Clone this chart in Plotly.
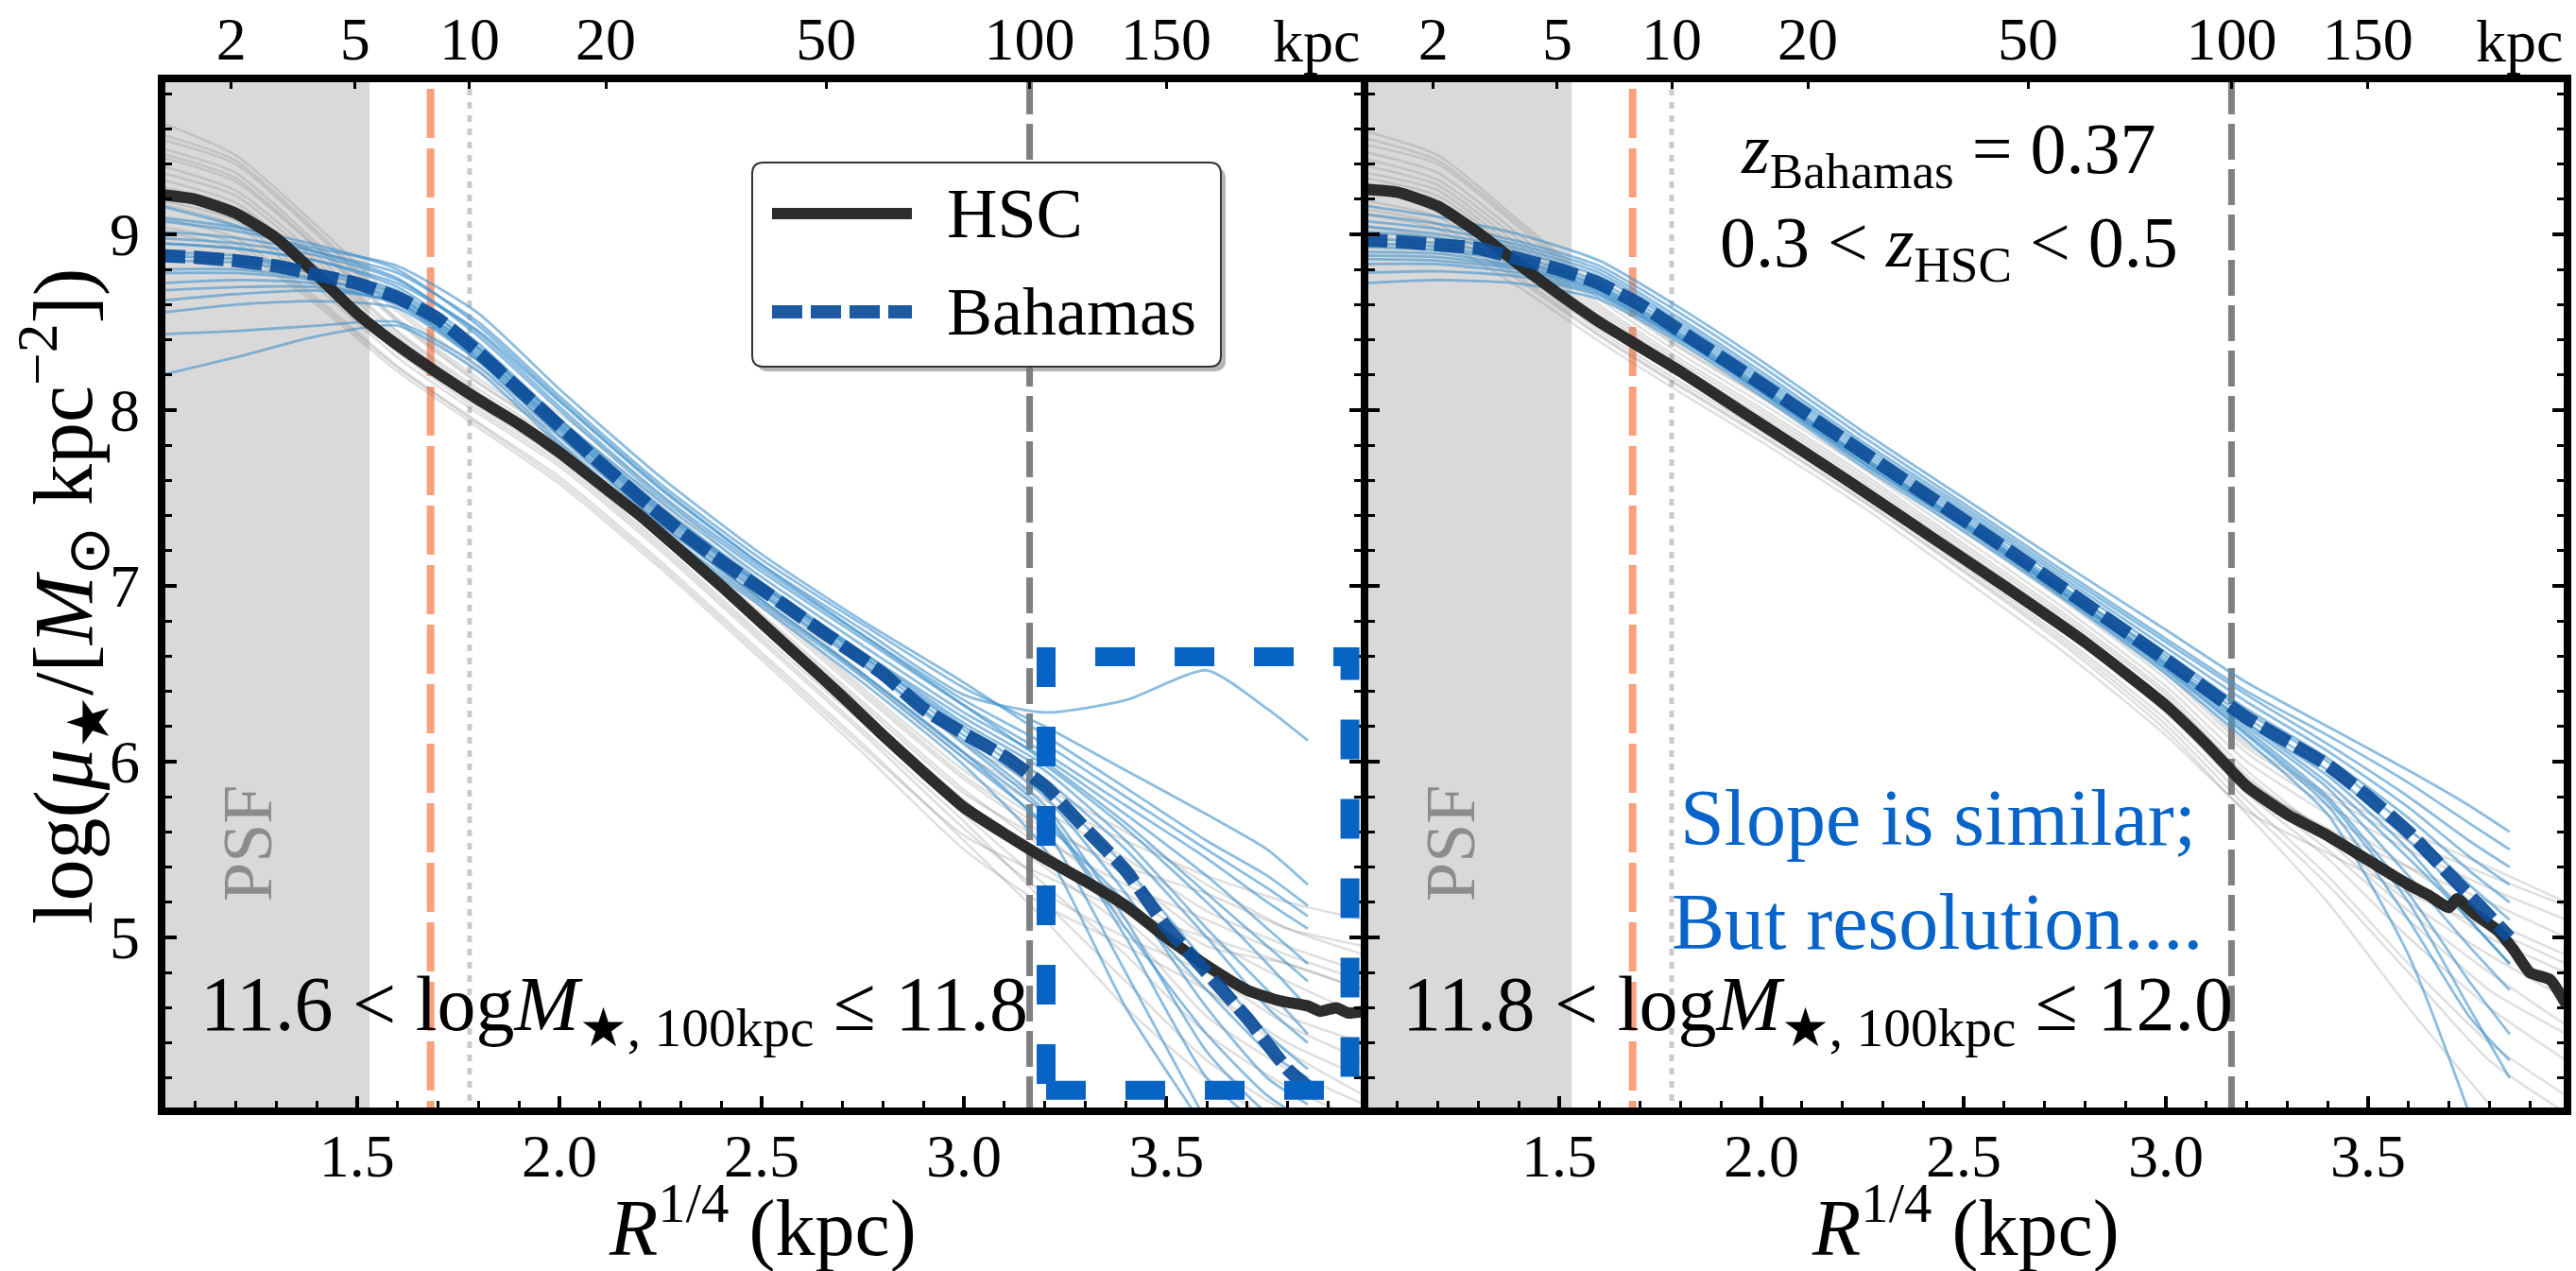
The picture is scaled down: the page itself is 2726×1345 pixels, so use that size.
import plotly.graph_objects as go

W, H = 2726, 1345
FONT = "Liberation Serif"

# ---------------- data (x = R^{1/4} in kpc^{1/4}, y = log surface mass density) -------------
XB = [1.0, 1.2, 1.4, 1.6, 1.8, 2.0, 2.25, 2.5, 2.75, 3.0, 3.2, 3.4, 3.6, 3.75, 3.85]
XG = [1.0, 1.2, 1.4, 1.6, 1.8, 2.0, 2.25, 2.5, 2.75, 3.0, 3.2, 3.4, 3.6, 3.8, 3.99]

# median profiles, left panel (11.6 < logM <= 11.8)
HSC_L_X = [1.0, 1.1, 1.2, 1.3, 1.4, 1.5, 1.6, 1.7, 1.8, 1.9, 2.0, 2.1, 2.2, 2.3, 2.4, 2.5, 2.6, 2.7,
           2.8, 2.9, 3.0, 3.1, 3.2, 3.3, 3.4, 3.5, 3.6, 3.7, 3.78, 3.85, 3.88, 3.92, 3.95, 3.99]
HSC_L_Y = [9.23, 9.20, 9.12, 8.98, 8.77, 8.55, 8.37, 8.21, 8.06, 7.92, 7.76, 7.58, 7.40, 7.20, 7.00,
           6.79, 6.58, 6.37, 6.15, 5.94, 5.74, 5.59, 5.45, 5.32, 5.18, 5.00, 4.84, 4.70, 4.64, 4.61,
           4.58, 4.60, 4.57, 4.58]
BAH_L_X = [1.0, 1.1, 1.2, 1.3, 1.4, 1.5, 1.6, 1.7, 1.8, 1.9, 2.0, 2.1, 2.2, 2.3, 2.4, 2.5, 2.6, 2.7,
           2.8, 2.9, 3.0, 3.1, 3.2, 3.3, 3.4, 3.5, 3.6, 3.7, 3.8, 3.85]
BAH_L_Y = [8.88, 8.87, 8.85, 8.82, 8.77, 8.72, 8.64, 8.52, 8.33, 8.12, 7.91, 7.70, 7.50, 7.31, 7.14,
           6.98, 6.82, 6.66, 6.50, 6.30, 6.16, 6.03, 5.86, 5.62, 5.38, 5.06, 4.80, 4.54, 4.25, 4.15]

# median profiles, right panel (11.8 < logM <= 12.0)
HSC_R_X = [1.0, 1.1, 1.2, 1.3, 1.4, 1.5, 1.6, 1.7, 1.8, 1.9, 2.0, 2.2, 2.4, 2.6, 2.8, 3.0, 3.1, 3.2,
           3.3, 3.4, 3.5, 3.6, 3.65, 3.7, 3.72, 3.76, 3.82, 3.86, 3.9, 3.95, 3.99]
HSC_R_Y = [9.26, 9.24, 9.16, 9.01, 8.83, 8.66, 8.50, 8.36, 8.22, 8.07, 7.92, 7.62, 7.31, 7.00, 6.68,
           6.32, 6.10, 5.86, 5.70, 5.58, 5.44, 5.30, 5.24, 5.17, 5.22, 5.14, 5.04, 4.93, 4.80, 4.76, 4.62]
BAH_R_X = [1.0, 1.1, 1.2, 1.3, 1.4, 1.5, 1.6, 1.7, 1.8, 1.9, 2.0, 2.2, 2.4, 2.6, 2.8, 3.0, 3.2, 3.4,
           3.5, 3.6, 3.7, 3.78, 3.85]
BAH_R_Y = [8.97, 8.96, 8.94, 8.92, 8.86, 8.80, 8.72, 8.60, 8.45, 8.30, 8.15, 7.84, 7.53, 7.22, 6.90,
           6.58, 6.25, 5.98, 5.80, 5.60, 5.36, 5.17, 5.00]

# individual Bahamas profiles (on XB), left panel
BLUE_L = [
    [9.17, 9.05, 8.90, 8.78, 8.50, 8.08, 7.58, 7.15, 6.78, 6.42, 6.20, 5.95, 5.70, 5.50, 5.30],
    [9.02, 8.98, 8.90, 8.75, 8.42, 8.00, 7.50, 7.08, 6.70, 6.32, 6.05, 5.75, 5.45, 5.20, 5.05],
    [8.95, 8.92, 8.85, 8.70, 8.38, 7.95, 7.45, 7.02, 6.62, 6.22, 5.95, 5.55, 5.05, 4.70, 4.45],
    [8.90, 8.88, 8.80, 8.68, 8.35, 7.92, 7.42, 6.98, 6.58, 6.15, 5.80, 5.25, 4.60, 4.20, 4.05],
    [8.85, 8.84, 8.78, 8.65, 8.30, 7.88, 7.38, 6.95, 6.55, 6.12, 5.75, 5.10, 4.35, 4.00, 3.90],
    [8.80, 8.80, 8.75, 8.62, 8.28, 7.85, 7.35, 6.92, 6.50, 6.05, 5.62, 4.80, 3.95, None, None],
    [8.72, 8.74, 8.72, 8.60, 8.30, 7.90, 7.42, 7.00, 6.62, 6.25, 5.98, 5.62, 5.20, 4.85, 4.60],
    [8.62, 8.66, 8.68, 8.62, 8.35, 7.95, 7.48, 7.05, 6.66, 6.28, 6.02, 5.70, 5.35, 5.05, 4.85],
    [8.55, 8.60, 8.62, 8.58, 8.28, 7.86, 7.36, 6.92, 6.50, 6.05, 5.70, 5.00, 4.20, 3.90, None],
    [8.43, 8.45, 8.48, 8.50, 8.25, 7.82, 7.32, 6.90, 6.48, 6.02, 5.65, 5.20, 4.70, 4.35, 4.20],
    [8.19, 8.30, 8.42, 8.48, 8.22, 7.80, 7.30, 6.88, 6.45, 5.98, 5.50, 4.60, 3.90, None, None],
    [8.95, 8.92, 8.85, 8.72, 8.45, 8.05, 7.55, 7.12, 6.75, 6.38, 6.28, 6.35, 6.52, 6.30, 6.12],
    [9.08, 9.02, 8.92, 8.82, 8.55, 8.12, 7.62, 7.18, 6.80, 6.45, 6.15, 5.85, 5.55, 5.35, 5.18],
    [8.78, 8.78, 8.74, 8.64, 8.33, 7.90, 7.40, 6.96, 6.56, 6.10, 5.72, 5.05, 4.45, 4.10, 3.95],
    [8.98, 8.95, 8.88, 8.74, 8.44, 8.02, 7.52, 7.10, 6.72, 6.35, 6.10, 5.80, 5.50, 5.28, 5.12],
    [8.68, 8.70, 8.70, 8.61, 8.32, 7.92, 7.44, 7.01, 6.60, 6.18, 5.85, 5.40, 4.85, 4.45, 4.25],
    [8.88, 8.86, 8.80, 8.66, 8.36, 7.94, 7.44, 7.00, 6.60, 6.20, 5.90, 5.50, 5.00, 4.60, 4.40],
    [9.10, 9.04, 8.94, 8.80, 8.48, 8.06, 7.56, 7.12, 6.72, 6.32, 6.00, 5.65, 5.25, 4.95, 4.75],
]
# individual HSC profiles (on XG), left panel
GRAY_L = [
    [9.65, 9.45, 9.05, 8.62, 8.28, 7.98, 7.52, 7.02, 6.55, 6.10, 5.85, 5.60, 5.30, 5.05, 4.90],
    [9.50, 9.35, 8.95, 8.52, 8.18, 7.88, 7.42, 6.92, 6.42, 5.95, 5.65, 5.35, 5.00, 4.75, 4.55],
    [9.40, 9.25, 8.88, 8.45, 8.12, 7.82, 7.35, 6.84, 6.34, 5.84, 5.50, 5.10, 4.70, 4.35, 4.10],
    [9.32, 9.18, 8.82, 8.42, 8.08, 7.78, 7.30, 6.78, 6.28, 5.78, 5.42, 5.25, 4.95, 4.85, 4.70],
    [9.25, 9.12, 8.75, 8.35, 8.02, 7.72, 7.24, 6.72, 6.22, 5.70, 5.30, 4.90, 4.45, 4.15, 3.95],
    [9.18, 9.05, 8.70, 8.30, 7.98, 7.68, 7.20, 6.68, 6.16, 5.62, 5.25, 5.00, 4.80, 4.50, 4.30],
    [9.10, 8.98, 8.64, 8.25, 7.93, 7.62, 7.14, 6.62, 6.10, 5.55, 5.10, 4.60, 4.20, 3.90, None],
    [9.02, 8.92, 8.60, 8.22, 7.90, 7.58, 7.10, 6.58, 6.05, 5.50, 5.18, 4.95, 4.70, 4.40, 4.20],
    [9.55, 9.40, 9.00, 8.56, 8.22, 7.92, 7.46, 6.96, 6.48, 6.02, 5.72, 5.45, 5.15, 4.95, 4.80],
    [9.45, 9.30, 8.92, 8.50, 8.15, 7.85, 7.38, 6.88, 6.38, 5.90, 5.58, 5.20, 4.85, 4.55, 4.40],
    [9.28, 9.15, 8.78, 8.38, 8.05, 7.75, 7.27, 6.75, 6.24, 5.74, 5.40, 5.05, 4.55, 4.25, 4.05],
    [9.36, 9.22, 8.85, 8.44, 8.10, 7.80, 7.33, 6.82, 6.32, 5.82, 5.55, 5.30, 5.10, 4.90, 4.75],
    [9.58, 9.42, 9.02, 8.58, 8.24, 7.94, 7.48, 6.98, 6.50, 6.05, 5.78, 5.55, 5.35, 5.20, 5.10],
    [9.20, 9.08, 8.72, 8.33, 8.00, 7.70, 7.22, 6.70, 6.18, 5.66, 5.20, 4.75, 4.30, 4.00, None],
    [9.05, 8.95, 8.62, 8.24, 7.92, 7.60, 7.12, 6.60, 6.08, 5.58, 5.35, 5.15, 5.00, 4.85, 4.70],
    [9.47, 9.32, 8.93, 8.51, 8.16, 7.86, 7.40, 6.90, 6.40, 5.92, 5.62, 5.40, 5.25, 5.05, 4.95],
]
# individual Bahamas profiles (on XB), right panel
BLUE_R = [
    [9.17, 9.10, 9.00, 8.85, 8.58, 8.28, 7.88, 7.50, 7.12, 6.75, 6.45, 6.20, 5.95, 5.75, 5.60],
    [9.08, 9.03, 8.94, 8.80, 8.52, 8.22, 7.82, 7.45, 7.06, 6.68, 6.38, 6.10, 5.80, 5.55, 5.40],
    [9.02, 8.98, 8.90, 8.76, 8.48, 8.18, 7.78, 7.41, 7.02, 6.62, 6.30, 6.02, 5.68, 5.38, 5.20],
    [8.98, 8.95, 8.87, 8.73, 8.46, 8.16, 7.76, 7.39, 6.99, 6.58, 6.25, 5.95, 5.55, 5.20, 4.95],
    [8.93, 8.91, 8.84, 8.70, 8.43, 8.13, 7.73, 7.36, 6.96, 6.55, 6.20, 5.85, 5.35, 4.95, 4.70],
    [8.88, 8.87, 8.81, 8.68, 8.41, 8.10, 7.70, 7.33, 6.93, 6.52, 6.15, 5.75, 5.10, 4.55, 4.30],
    [8.83, 8.83, 8.78, 8.66, 8.40, 8.10, 7.70, 7.34, 6.95, 6.56, 6.22, 5.88, 5.45, 5.10, 4.85],
    [8.78, 8.79, 8.76, 8.65, 8.40, 8.11, 7.72, 7.36, 6.98, 6.60, 6.28, 6.00, 5.62, 5.30, 5.10],
    [8.72, 8.74, 8.72, 8.63, 8.38, 8.08, 7.68, 7.31, 6.92, 6.50, 6.12, 5.70, 4.90, 4.00, None],
    [9.12, 9.06, 8.96, 8.82, 8.55, 8.25, 7.85, 7.47, 7.08, 6.70, 6.40, 6.15, 5.88, 5.65, 5.50],
    [8.95, 8.93, 8.85, 8.71, 8.44, 8.14, 7.74, 7.37, 6.97, 6.56, 6.22, 5.92, 5.50, 5.10, 4.85],
    [8.86, 8.85, 8.80, 8.67, 8.41, 8.12, 7.72, 7.35, 6.95, 6.54, 6.18, 5.80, 5.25, 4.75, 4.45],
    [9.05, 9.00, 8.92, 8.78, 8.50, 8.20, 7.80, 7.43, 7.04, 6.65, 6.34, 6.06, 5.74, 5.46, 5.30],
    [8.90, 8.89, 8.82, 8.69, 8.42, 8.12, 7.72, 7.35, 6.95, 6.53, 6.16, 5.78, 5.20, 4.60, 4.20],
]
# individual HSC profiles (on XG), right panel
GRAY_R = [
    [9.60, 9.45, 9.08, 8.70, 8.38, 8.10, 7.74, 7.35, 6.95, 6.52, 6.10, 5.82, 5.60, 5.40, 5.20],
    [9.48, 9.35, 9.00, 8.63, 8.32, 8.04, 7.67, 7.27, 6.87, 6.43, 6.00, 5.70, 5.40, 5.10, 4.90],
    [9.40, 9.28, 8.94, 8.58, 8.27, 7.99, 7.62, 7.22, 6.82, 6.38, 5.92, 5.55, 5.15, 4.80, 4.50],
    [9.33, 9.22, 8.89, 8.54, 8.23, 7.95, 7.58, 7.18, 6.78, 6.33, 5.88, 5.62, 5.40, 5.20, 5.00],
    [9.26, 9.16, 8.83, 8.49, 8.19, 7.91, 7.54, 7.14, 6.74, 6.28, 5.82, 5.45, 5.00, 4.60, 4.30],
    [9.20, 9.10, 8.79, 8.45, 8.16, 7.88, 7.51, 7.11, 6.70, 6.24, 5.78, 5.35, 4.85, 4.40, 4.10],
    [9.12, 9.03, 8.74, 8.42, 8.13, 7.85, 7.48, 7.08, 6.66, 6.18, 5.70, 5.20, 4.60, 4.05, None],
    [9.05, 8.97, 8.70, 8.39, 8.10, 7.82, 7.45, 7.04, 6.62, 6.15, 5.72, 5.48, 5.25, 5.05, 4.85],
    [9.52, 9.40, 9.04, 8.66, 8.35, 8.07, 7.70, 7.31, 6.91, 6.47, 6.05, 5.75, 5.50, 5.28, 5.10],
    [9.44, 9.31, 8.97, 8.60, 8.29, 8.01, 7.64, 7.24, 6.84, 6.40, 5.95, 5.58, 5.20, 4.90, 4.65],
    [9.30, 9.19, 8.86, 8.51, 8.21, 7.93, 7.56, 7.16, 6.76, 6.30, 5.85, 5.50, 5.10, 4.70, 4.45],
    [9.36, 9.25, 8.91, 8.56, 8.25, 7.97, 7.60, 7.20, 6.80, 6.35, 5.90, 5.60, 5.30, 5.00, 4.80],
    [9.56, 9.42, 9.06, 8.68, 8.36, 8.08, 7.72, 7.33, 6.93, 6.50, 6.08, 5.80, 5.55, 5.35, 5.18],
    [9.15, 9.06, 8.76, 8.43, 8.14, 7.86, 7.49, 7.09, 6.68, 6.21, 5.74, 5.30, 4.80, 4.30, 4.00],
]

# axis / reference values
X_RANGE_L = [1.017, 3.99]
X_RANGE_R = [1.019, 3.993]
Y_RANGE = [4.011, 9.887]
X_TICKS = [1.5, 2.0, 2.5, 3.0, 3.5]
X_TICKTEXT = ["1.5", "2.0", "2.5", "3.0", "3.5"]
Y_TICKS = [5, 6, 7, 8, 9]
KPC_TICKS = [2, 5, 10, 20, 50, 100, 150]
PSF_EDGE = 1.531            # R^{1/4} of the PSF region edge
R_ORANGE = 8.0              # kpc
R_DOTTED = 10.0             # kpc
R_100 = 100.0               # kpc
BOX_X = [3.203, 3.954]      # highlighted region
BOX_Y = [4.13, 6.597]

# ---------------- helpers ----------------
def px(x):
    return x / W

def py(y):
    return 1 - y / H

DOM_L = [px(171), px(1444)]
DOM_R = [px(1444), px(2717)]
DOM_Y = [py(1176), py(83)]

fig = go.Figure()

HSC_COL = "rgba(38,38,38,0.97)"
BAH_COL = "rgba(12,78,154,0.93)"
BAH_DASH = "32px,9px"

panels = [
    ("x", "y", GRAY_L, BLUE_L, HSC_L_X, HSC_L_Y, BAH_L_X, BAH_L_Y),
    ("x2", "y2", GRAY_R, BLUE_R, HSC_R_X, HSC_R_Y, BAH_R_X, BAH_R_Y),
]
for xa, ya, grays, blues, hx, hy, bx, by in panels:
    for g in grays:
        fig.add_trace(go.Scatter(x=XG, y=g, mode="lines", xaxis=xa, yaxis=ya,
                                 line=dict(color="rgba(120,120,120,0.24)", width=2.5,
                                           shape="spline", smoothing=0.6),
                                 hoverinfo="skip", showlegend=False))
    for b in blues:
        fig.add_trace(go.Scatter(x=XB, y=b, mode="lines", xaxis=xa, yaxis=ya,
                                 line=dict(color="rgba(70,148,205,0.62)", width=2.8,
                                           shape="spline", smoothing=0.6),
                                 hoverinfo="skip", showlegend=False))
    fig.add_trace(go.Scatter(x=hx, y=hy, mode="lines", xaxis=xa, yaxis=ya, name="HSC",
                             line=dict(color=HSC_COL, width=12, shape="spline", smoothing=0.5),
                             hoverinfo="skip", showlegend=False))
    fig.add_trace(go.Scatter(x=bx, y=by, mode="lines", xaxis=xa, yaxis=ya, name="Bahamas",
                             line=dict(color=BAH_COL, width=14, dash=BAH_DASH,
                                       shape="spline", smoothing=0.5),
                             hoverinfo="skip", showlegend=False))

KPC_POS = [r ** 0.25 for r in KPC_TICKS]
for xa in ["x3", "x4"]:
    fig.add_trace(go.Scatter(x=KPC_POS, y=[None] * len(KPC_POS), xaxis=xa,
                             yaxis="y" if xa == "x3" else "y2", mode="lines",
                             hoverinfo="skip", showlegend=False))

tickfont = dict(family=FONT, size=64, color="black")

def xaxis(domain, rng, anchor):
    return dict(domain=domain, range=rng, anchor=anchor, tickvals=X_TICKS, ticktext=X_TICKTEXT,
                ticks="inside", ticklen=16, tickwidth=4, tickcolor="black",
                minor=dict(dtick=0.1, tick0=0, ticks="inside", ticklen=11, tickwidth=3,
                           tickcolor="black", showgrid=False),
                showgrid=False, zeroline=False, showline=False, tickfont=tickfont,
                ticklabelstandoff=4, fixedrange=True)

def yaxis(anchor, labels):
    return dict(domain=DOM_Y, range=Y_RANGE, anchor=anchor, tickvals=Y_TICKS,
                ticks="inside", ticklen=16, tickwidth=4, tickcolor="black", mirror="ticks",
                minor=dict(dtick=0.2, tick0=0, ticks="inside", ticklen=11, tickwidth=3,
                           tickcolor="black", showgrid=False),
                showgrid=False, zeroline=False, showline=False, tickfont=tickfont,
                showticklabels=labels, ticklabelstandoff=22, fixedrange=True)

def topaxis(over, rng, anchor):
    return dict(overlaying=over, side="top", range=rng, anchor=anchor, tickvals=KPC_POS,
                ticktext=[str(r) for r in KPC_TICKS], ticks="inside", ticklen=11, tickwidth=2.5,
                tickcolor="black", showgrid=False, zeroline=False, showline=False,
                tickfont=tickfont, ticklabelstandoff=6, fixedrange=True)

shapes = []
for xa, ya, rng in [("x", "y", X_RANGE_L), ("x2", "y2", X_RANGE_R)]:
    yd = ya + " domain"
    shapes.append(dict(type="rect", xref=xa, yref=yd, x0=rng[0] - 0.05, x1=PSF_EDGE, y0=0, y1=1,
                       fillcolor="#d9d9d9", line=dict(width=0), layer="below"))
    shapes.append(dict(type="line", xref=xa, yref=yd, x0=R_ORANGE ** 0.25, x1=R_ORANGE ** 0.25,
                       y0=0.99, y1=0, line=dict(color="#fba07c", width=8, dash="52px,11px"),
                       layer="below"))
    shapes.append(dict(type="line", xref=xa, yref=yd, x0=R_DOTTED ** 0.25, x1=R_DOTTED ** 0.25,
                       y0=0.99, y1=0, line=dict(color="#cacaca", width=5, dash="7px,7px"),
                       layer="below"))
    shapes.append(dict(type="line", xref=xa, yref=yd, x0=R_100 ** 0.25, x1=R_100 ** 0.25,
                       y0=1, y1=0, line=dict(color="#808080", width=7, dash="38px,10px"),
                       layer="below"))

# highlighted region in the left panel
shapes.append(dict(type="rect", xref="x", yref="y", x0=BOX_X[0], x1=BOX_X[1], y0=BOX_Y[0],
                   y1=BOX_Y[1], line=dict(color="#0864c4", width=20, dash="42px,42px"),
                   layer="above"))

# hand-built legend box (rounded, with shadow)
def rr_path(L, T, R, B, r):
    return (f"M {px(L + r)},{py(T)} L {px(R - r)},{py(T)} Q {px(R)},{py(T)} {px(R)},{py(T + r)} "
            f"L {px(R)},{py(B - r)} Q {px(R)},{py(B)} {px(R - r)},{py(B)} "
            f"L {px(L + r)},{py(B)} Q {px(L)},{py(B)} {px(L)},{py(B - r)} "
            f"L {px(L)},{py(T + r)} Q {px(L)},{py(T)} {px(L + r)},{py(T)} Z")

LG = (796, 172, 1292, 388)
shapes.append(dict(type="path", xref="paper", yref="paper",
                   path=rr_path(LG[0] + 5, LG[1] + 5, LG[2] + 5, LG[3] + 5, 12),
                   fillcolor="rgba(120,120,120,0.55)", line=dict(width=0), layer="above"))
shapes.append(dict(type="path", xref="paper", yref="paper", path=rr_path(*LG, 12),
                   fillcolor="white", line=dict(color="#333333", width=2), layer="above"))
shapes.append(dict(type="line", xref="paper", yref="paper", x0=px(817), x1=px(965),
                   y0=py(226), y1=py(226), line=dict(color=HSC_COL, width=12), layer="above"))
shapes.append(dict(type="line", xref="paper", yref="paper", x0=px(817), x1=px(965),
                   y0=py(330), y1=py(330), line=dict(color=BAH_COL, width=14, dash=BAH_DASH),
                   layer="above"))

# frames
for d in [DOM_L, DOM_R]:
    shapes.append(dict(type="rect", xref="paper", yref="paper", x0=d[0], x1=d[1],
                       y0=DOM_Y[0], y1=DOM_Y[1], line=dict(color="black", width=8),
                       fillcolor="rgba(0,0,0,0)", layer="above"))

def ann(x, y, text, size, **kw):
    d = dict(x=px(x), y=py(y), xref="paper", yref="paper", text=text, showarrow=False,
             font=dict(family=FONT, size=size, color=kw.pop("color", "black")),
             xanchor=kw.pop("xanchor", "center"), yanchor=kw.pop("yanchor", "middle"))
    d.update(kw)
    return d

annotations = [
    ann(1393, 44, "kpc", 64),
    ann(2666, 44, "kpc", 64),
    ann(66, 631, "log(<i>μ</i><sub>★</sub>/[<i>M</i><sub>⊙</sub> kpc<sup>−2</sup>])", 88,
        textangle=-90),
    ann(807, 1294, "<i>R</i><sup>1/4</sup> (kpc)", 84),
    ann(2080, 1294, "<i>R</i><sup>1/4</sup> (kpc)", 84),
    ann(262, 893, "PSF", 74, color="#8c8c8c", textangle=-90),
    ann(1535, 893, "PSF", 74, color="#8c8c8c", textangle=-90),
    ann(210, 1068, "11.6 < log<i>M</i><sub>★, 100kpc</sub> ≤ 11.8", 82, xanchor="left"),
    ann(1482, 1068, "11.8 < log<i>M</i><sub>★, 100kpc</sub> ≤ 12.0", 82, xanchor="left"),
    ann(2062, 212, "<i>z</i><sub>Bahamas</sub> = 0.37<br>0.3 < <i>z</i><sub>HSC</sub> < 0.5", 76,
        align="center"),
    ann(2051, 865, "Slope is similar;", 84, color="#0864c8"),
    ann(2050, 975, "But resolution....", 84, color="#0864c8"),
    ann(1000, 226, "HSC", 74, xanchor="left"),
    ann(1000, 330, "Bahamas", 72, xanchor="left"),
]

fig.update_layout(
    width=W, height=H, autosize=False,
    margin=dict(l=0, r=0, t=0, b=0, pad=0),
    paper_bgcolor="white", plot_bgcolor="white",
    showlegend=False,
    xaxis=xaxis(DOM_L, X_RANGE_L, "y"),
    yaxis=yaxis("x", True),
    xaxis2=xaxis(DOM_R, X_RANGE_R, "y2"),
    yaxis2=yaxis("x2", False),
    xaxis3=topaxis("x", X_RANGE_L, "y"),
    xaxis4=topaxis("x2", X_RANGE_R, "y2"),
    shapes=shapes,
    annotations=annotations,
)

fig.write_html("out.html")
